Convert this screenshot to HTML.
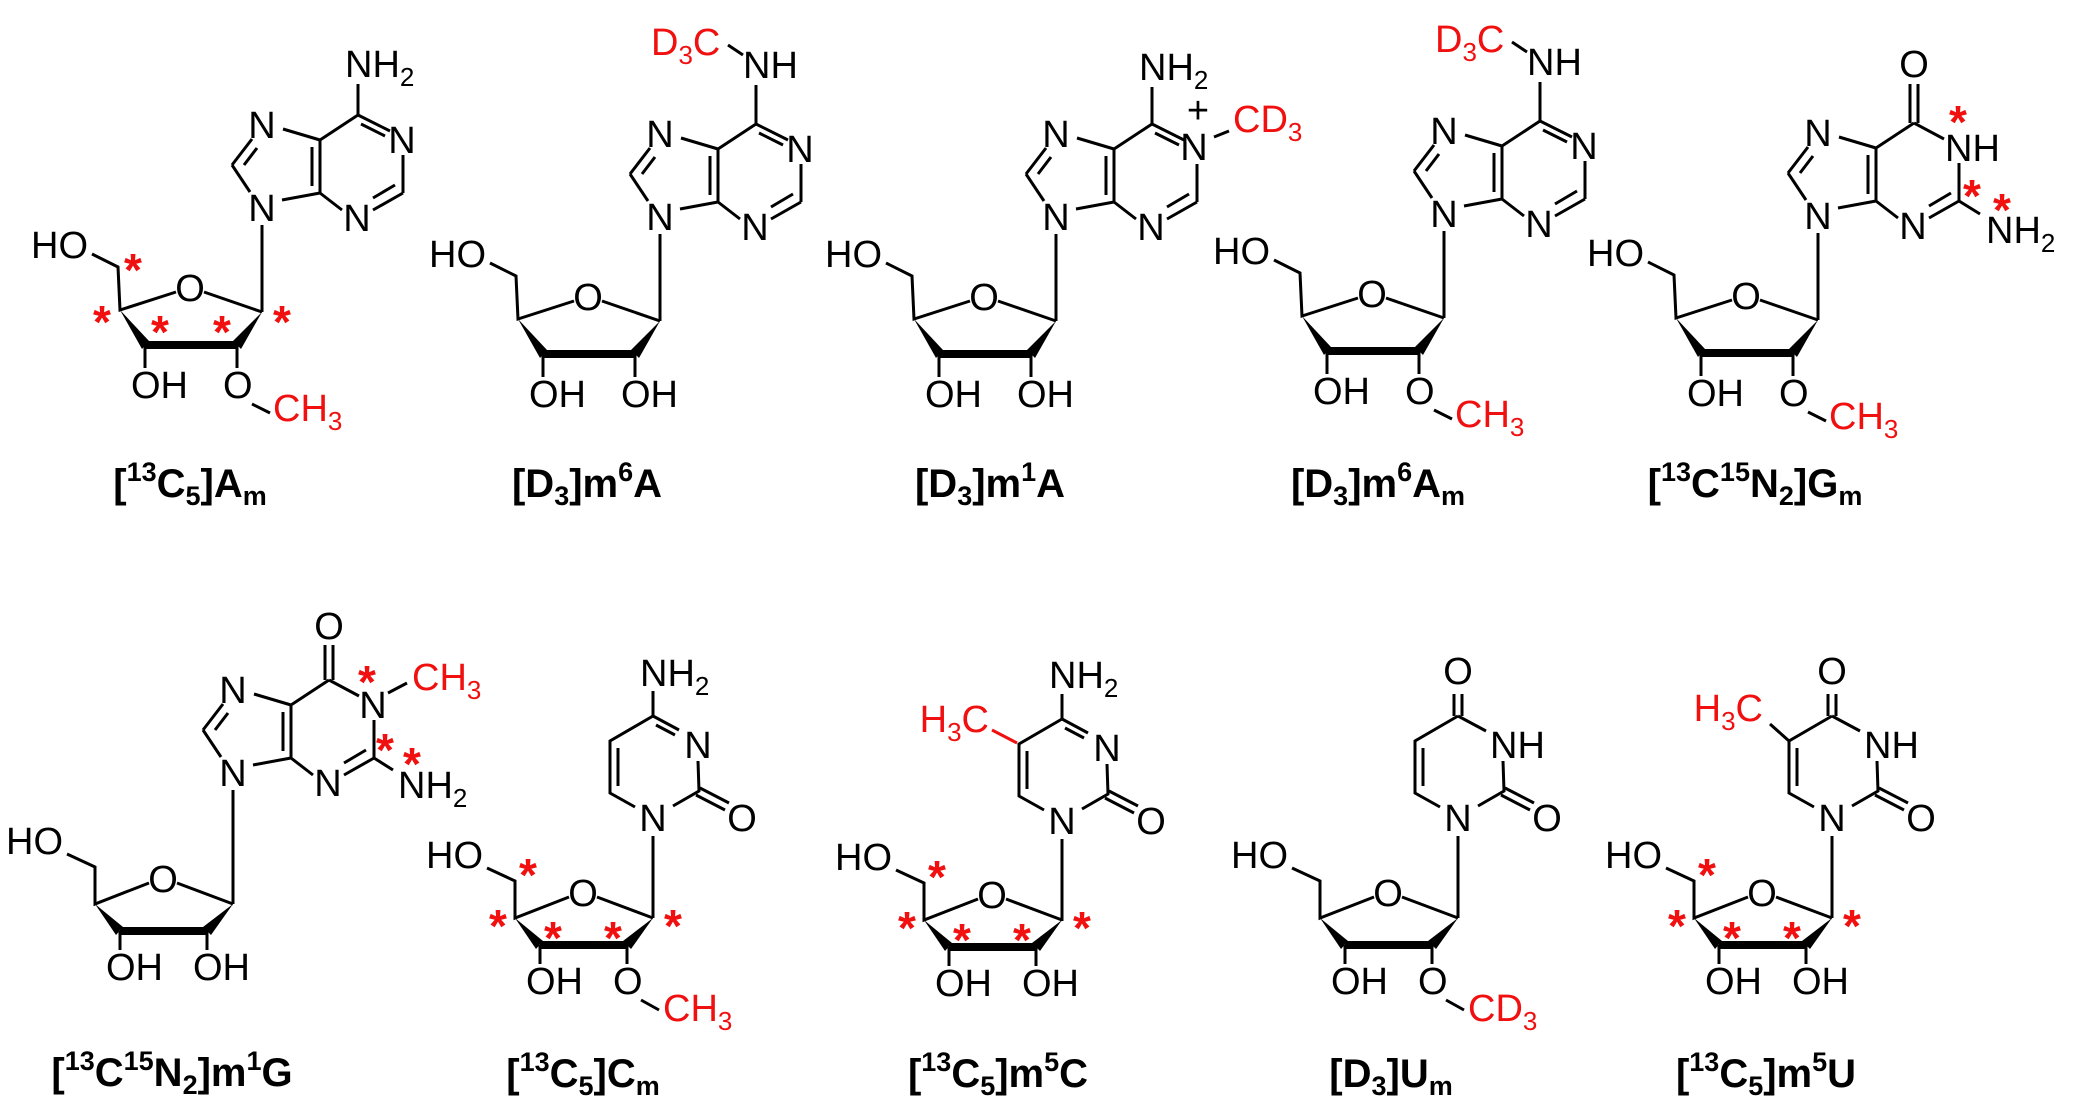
<!DOCTYPE html>
<html><head><meta charset="utf-8"><style>
html,body{margin:0;padding:0;background:#fff;}
svg{display:block;}
text{font-family:"Liberation Sans",Arial,sans-serif;font-size:38px;fill:#000;}
.m{text-anchor:middle;}
.e{text-anchor:end;}
.r{fill:#f01010;}
.s{fill:#f01010;font-weight:bold;font-size:46px;text-anchor:middle;}
.L{font-weight:bold;font-size:40px;text-anchor:middle;}
.k{stroke:#000;stroke-width:3;fill:none;}
.kr{stroke:#f01010;stroke-width:3;fill:none;}
</style></head><body>
<svg width="2081" height="1108" viewBox="0 0 2081 1108" xmlns="http://www.w3.org/2000/svg">
<defs>
<path id="purc" class="k" d="M282,200 L320,193 M320,193 L320,140 M312,186 L312,147 M320,140 L283,129 M252,139 L232,165 M257,148 L244,165 M232,165 L250,192 M320,140 L358,115 M403,155 L403,193 M403,193 L373,210 M395,185 L373,198 M342,210 L320,193"/>
<path id="pA" class="k" d="M358,115 L390,131 M361,124 L385,136"/>
<g id="sT">
<path class="k" d="M0,0 L-58,-20 M-86,-20 L-142,-2 L-144,-45 L-170,-58 M-117,33 L-117,56 M-25,33 L-25,56"/>
<line x1="-117" y1="33" x2="-25" y2="33" stroke="#000" stroke-width="8"/>
<polygon points="-142,-2 -120,37 -113,29" fill="#000"/>
<polygon points="0,0 -29,29 -21,37" fill="#000"/>
</g>
<g id="sB">
<path class="k" d="M0,0 L-56,-21 M-84,-21 L-138,0 L-138,-37 L-166,-50 M-113,27 L-113,46 M-26,27 L-26,46"/>
<line x1="-113" y1="27" x2="-26" y2="27" stroke="#000" stroke-width="8"/>
<polygon points="-138,0 -117,31 -110,23" fill="#000"/>
<polygon points="0,0 -30,23 -22,31" fill="#000"/>
</g>
<path id="pyr" class="k" d="M-18,-11 L-43,-25 L-43,-77 L0,-102 M-35,-32 L-35,-70 M20,-12 L46,-27 L45,-57 M47,-30 L76,-15 M43,-23 L72,-8 M0,18 L0,100"/>
<path id="cyt" class="k" d="M0,-102 L26,-88 M3,-93 L22,-83 M0,-102 L0,-127"/>
<path id="ura" class="k" d="M0,-102 L28,-87 M-4,-102 L-4,-124 M4,-102 L4,-124"/>
</defs>

<!-- S1 [13C5]Am -->
<g>
<use href="#purc"/><use href="#pA"/>
<path class="k" d="M358,115 L358,84 M262,225 L262,312"/>
<text class="m" x="262" y="138">N</text><text class="m" x="402" y="153">N</text>
<text class="m" x="357" y="231">N</text><text class="m" x="262" y="221">N</text>
<text x="345" y="77">NH<tspan font-size="26" dy="9">2</tspan></text>
</g>
<g transform="translate(262,312)">
<use href="#sT"/>
<text class="m" x="-72" y="-11">O</text>
<text class="e" x="-174" y="-54">HO</text>
<text x="-131" y="86">OH</text>
<text x="-39" y="86">O</text>
<path class="k" d="M-10,92 L8,101"/>
<text class="r" x="11" y="109">CH<tspan font-size="26" dy="9">3</tspan></text>
<text class="s" x="-129" y="-26">*</text><text class="s" x="-160" y="26">*</text>
<text class="s" x="-102" y="36">*</text><text class="s" x="-40" y="36">*</text>
<text class="s" x="20" y="26">*</text>
</g>
<text class="L" x="190" y="497">[<tspan font-size="27" dy="-16">13</tspan><tspan dy="16">C</tspan><tspan font-size="27" dy="8">5</tspan><tspan dy="-8">]A</tspan><tspan font-size="27" dy="8">m</tspan></text>

<!-- S2 [D3]m6A -->
<g transform="translate(398,9)">
<use href="#purc"/><use href="#pA"/>
<path class="k" d="M358,115 L358,76 M262,225 L262,312 M330,36 L345,46"/>
<text class="m" x="262" y="138">N</text><text class="m" x="402" y="153">N</text>
<text class="m" x="357" y="231">N</text><text class="m" x="262" y="221">N</text>
<text x="345" y="69">NH</text>
<text class="r" x="253" y="46">D<tspan font-size="26" dy="9">3</tspan><tspan dy="-9">C</tspan></text>
</g>
<g transform="translate(660,321)">
<use href="#sT"/>
<text class="m" x="-72" y="-11">O</text>
<text class="e" x="-174" y="-54">HO</text>
<text x="-131" y="86">OH</text>
<text x="-39" y="86">OH</text>
</g>
<text class="L" x="587" y="497">[D<tspan font-size="27" dy="8">3</tspan><tspan dy="-8">]m</tspan><tspan font-size="27" dy="-16">6</tspan><tspan dy="16">A</tspan></text>

<!-- S3 [D3]m1A -->
<g transform="translate(794,9)">
<use href="#purc"/><use href="#pA"/>
<path class="k" d="M358,115 L358,78 M262,225 L262,312 M420,128 L435,122"/>
<text class="m" x="262" y="138">N</text><text class="m" x="400" y="151">N</text>
<text class="m" x="404" y="114" font-size="18">+</text>
<text class="m" x="357" y="231">N</text><text class="m" x="262" y="221">N</text>
<text x="345" y="71">NH<tspan font-size="26" dy="9">2</tspan></text>
<text class="r" x="439" y="123">CD<tspan font-size="26" dy="9">3</tspan></text>
</g>
<g transform="translate(1056,321)">
<use href="#sT"/>
<text class="m" x="-72" y="-11">O</text>
<text class="e" x="-174" y="-54">HO</text>
<text x="-131" y="86">OH</text>
<text x="-39" y="86">OH</text>
</g>
<text class="L" x="990" y="497">[D<tspan font-size="27" dy="8">3</tspan><tspan dy="-8">]m</tspan><tspan font-size="27" dy="-16">1</tspan><tspan dy="16">A</tspan></text>

<!-- S4 [D3]m6Am -->
<g transform="translate(1182,6)">
<use href="#purc"/><use href="#pA"/>
<path class="k" d="M358,115 L358,76 M262,225 L262,312 M330,36 L345,46"/>
<text class="m" x="262" y="138">N</text><text class="m" x="402" y="153">N</text>
<text class="m" x="357" y="231">N</text><text class="m" x="262" y="221">N</text>
<text x="345" y="69">NH</text>
<text class="r" x="253" y="46">D<tspan font-size="26" dy="9">3</tspan><tspan dy="-9">C</tspan></text>
</g>
<g transform="translate(1444,318)">
<use href="#sT"/>
<text class="m" x="-72" y="-11">O</text>
<text class="e" x="-174" y="-54">HO</text>
<text x="-131" y="86">OH</text>
<text x="-39" y="86">O</text>
<path class="k" d="M-10,92 L8,101"/>
<text class="r" x="11" y="109">CH<tspan font-size="26" dy="9">3</tspan></text>
</g>
<text class="L" x="1378" y="497">[D<tspan font-size="27" dy="8">3</tspan><tspan dy="-8">]m</tspan><tspan font-size="27" dy="-16">6</tspan><tspan dy="16">A</tspan><tspan font-size="27" dy="8">m</tspan></text>

<!-- S5 [13C15N2]Gm -->
<g transform="translate(1556,8)">
<use href="#purc"/>
<path class="k" d="M358,115 L388,131 M354,115 L354,76 M362,115 L362,76 M403,193 L424,206 M262,225 L262,312"/>
<text class="m" x="358" y="69">O</text>
<text class="m" x="262" y="138">N</text><text x="389" y="153">NH</text>
<text class="m" x="357" y="231">N</text><text class="m" x="262" y="221">N</text>
<text x="430" y="235">NH<tspan font-size="26" dy="9">2</tspan></text>
<text class="s" x="402" y="130">*</text><text class="s" x="416" y="204">*</text><text class="s" x="446" y="218">*</text>
</g>
<g transform="translate(1818,320)">
<use href="#sT"/>
<text class="m" x="-72" y="-11">O</text>
<text class="e" x="-174" y="-54">HO</text>
<text x="-131" y="86">OH</text>
<text x="-39" y="86">O</text>
<path class="k" d="M-10,92 L8,101"/>
<text class="r" x="11" y="109">CH<tspan font-size="26" dy="9">3</tspan></text>
</g>
<text class="L" x="1755" y="497">[<tspan font-size="27" dy="-16">13</tspan><tspan dy="16">C</tspan><tspan font-size="27" dy="-16">15</tspan><tspan dy="16">N</tspan><tspan font-size="27" dy="8">2</tspan><tspan dy="-8">]G</tspan><tspan font-size="27" dy="8">m</tspan></text>

<!-- S6 [13C15N2]m1G -->
<g transform="translate(-29,565)">
<use href="#purc"/>
<path class="k" d="M358,115 L388,131 M354,115 L354,80 M362,115 L362,80 M403,193 L422,205 M262,225 L262,339 M417,128 L436,118"/>
<text class="m" x="358" y="74">O</text>
<text class="m" x="262" y="138">N</text><text class="m" x="402" y="153">N</text>
<text class="m" x="357" y="231">N</text><text class="m" x="262" y="221">N</text>
<text x="427" y="233">NH<tspan font-size="26" dy="9">2</tspan></text>
<text class="r" x="441" y="125">CH<tspan font-size="26" dy="9">3</tspan></text>
<text class="s" x="396" y="133">*</text><text class="s" x="414" y="201">*</text><text class="s" x="441" y="215">*</text>
</g>
<g transform="translate(233,904)">
<use href="#sB"/>
<text class="m" x="-70" y="-12">O</text>
<text class="e" x="-170" y="-50">HO</text>
<text x="-127" y="76">OH</text>
<text x="-40" y="76">OH</text>
</g>
<text class="L" x="172" y="1086">[<tspan font-size="27" dy="-16">13</tspan><tspan dy="16">C</tspan><tspan font-size="27" dy="-16">15</tspan><tspan dy="16">N</tspan><tspan font-size="27" dy="8">2</tspan><tspan dy="-8">]m</tspan><tspan font-size="27" dy="-16">1</tspan><tspan dy="16">G</tspan></text>

<!-- S7 [13C5]Cm -->
<g transform="translate(653,818)">
<use href="#pyr"/><use href="#cyt"/>
<text class="m" x="0" y="13">N</text><text class="m" x="45" y="-60">N</text>
<text class="m" x="89" y="13">O</text>
<text x="-13" y="-132">NH<tspan font-size="26" dy="9">2</tspan></text>
</g>
<g transform="translate(653,918)">
<use href="#sB"/>
<text class="m" x="-70" y="-12">O</text>
<text class="e" x="-170" y="-50">HO</text>
<text x="-127" y="76">OH</text>
<text x="-40" y="76">O</text>
<path class="k" d="M-12,82 L6,92"/>
<text class="r" x="10" y="103">CH<tspan font-size="26" dy="9">3</tspan></text>
<text class="s" x="-125" y="-27">*</text><text class="s" x="-155" y="24">*</text>
<text class="s" x="-100" y="36">*</text><text class="s" x="-40" y="36">*</text>
<text class="s" x="20" y="24">*</text>
</g>
<text class="L" x="583" y="1087">[<tspan font-size="27" dy="-16">13</tspan><tspan dy="16">C</tspan><tspan font-size="27" dy="8">5</tspan><tspan dy="-8">]C</tspan><tspan font-size="27" dy="8">m</tspan></text>

<!-- S8 [13C5]m5C -->
<g transform="translate(1062,821)">
<use href="#pyr"/><use href="#cyt"/>
<path class="kr" d="M-45,-78 L-70,-91"/>
<text class="m" x="0" y="13">N</text><text class="m" x="45" y="-60">N</text>
<text class="m" x="89" y="13">O</text>
<text x="-13" y="-133">NH<tspan font-size="26" dy="9">2</tspan></text>
<text class="r e" x="-73" y="-89">H<tspan font-size="26" dy="9">3</tspan><tspan dy="-9">C</tspan></text>
</g>
<g transform="translate(1062,920)">
<use href="#sB"/>
<text class="m" x="-70" y="-12">O</text>
<text class="e" x="-170" y="-50">HO</text>
<text x="-127" y="76">OH</text>
<text x="-40" y="76">OH</text>
<text class="s" x="-125" y="-27">*</text><text class="s" x="-155" y="24">*</text>
<text class="s" x="-100" y="36">*</text><text class="s" x="-40" y="36">*</text>
<text class="s" x="20" y="24">*</text>
</g>
<text class="L" x="998" y="1087">[<tspan font-size="27" dy="-16">13</tspan><tspan dy="16">C</tspan><tspan font-size="27" dy="8">5</tspan><tspan dy="-8">]m</tspan><tspan font-size="27" dy="-16">5</tspan><tspan dy="16">C</tspan></text>

<!-- S9 [D3]Um -->
<g transform="translate(1458,818)">
<use href="#pyr"/><use href="#ura"/>
<text class="m" x="0" y="13">N</text><text x="32" y="-60">NH</text>
<text class="m" x="89" y="13">O</text>
<text class="m" x="0" y="-134">O</text>
</g>
<g transform="translate(1458,918)">
<use href="#sB"/>
<text class="m" x="-70" y="-12">O</text>
<text class="e" x="-170" y="-50">HO</text>
<text x="-127" y="76">OH</text>
<text x="-40" y="76">O</text>
<path class="k" d="M-12,82 L6,92"/>
<text class="r" x="10" y="103">CD<tspan font-size="26" dy="9">3</tspan></text>
</g>
<text class="L" x="1391" y="1087">[D<tspan font-size="27" dy="8">3</tspan><tspan dy="-8">]U</tspan><tspan font-size="27" dy="8">m</tspan></text>

<!-- S10 [13C5]m5U -->
<g transform="translate(1832,818)">
<use href="#pyr"/><use href="#ura"/>
<path class="k" d="M-62,-94 L-43,-77"/>
<text class="m" x="0" y="13">N</text><text x="32" y="-60">NH</text>
<text class="m" x="89" y="13">O</text>
<text class="m" x="0" y="-134">O</text>
<text class="r e" x="-69" y="-97">H<tspan font-size="26" dy="9">3</tspan><tspan dy="-9">C</tspan></text>
</g>
<g transform="translate(1832,918)">
<use href="#sB"/>
<text class="m" x="-70" y="-12">O</text>
<text class="e" x="-170" y="-50">HO</text>
<text x="-127" y="76">OH</text>
<text x="-40" y="76">OH</text>
<text class="s" x="-125" y="-27">*</text><text class="s" x="-155" y="24">*</text>
<text class="s" x="-100" y="36">*</text><text class="s" x="-40" y="36">*</text>
<text class="s" x="20" y="24">*</text>
</g>
<text class="L" x="1766" y="1087">[<tspan font-size="27" dy="-16">13</tspan><tspan dy="16">C</tspan><tspan font-size="27" dy="8">5</tspan><tspan dy="-8">]m</tspan><tspan font-size="27" dy="-16">5</tspan><tspan dy="16">U</tspan></text>
</svg>
</body></html>
